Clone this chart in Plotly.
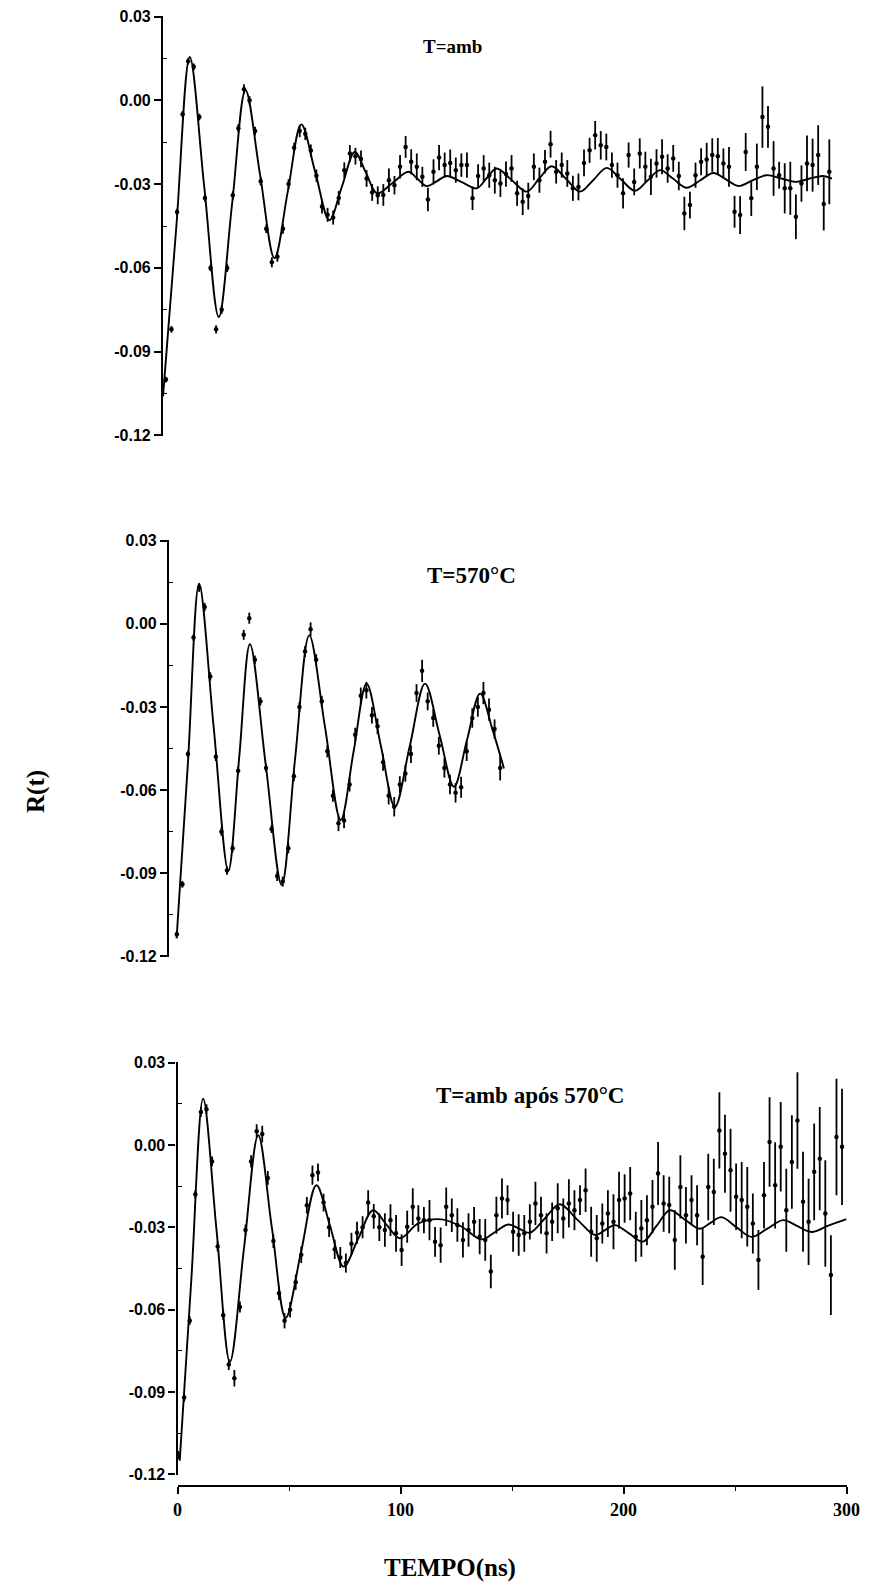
import plotly.graph_objects as go

# ---------------- Panel 1 : T=amb ----------------
t_amb = [1.3, 3.8, 6.3, 8.8, 11.3, 13.8, 16.3, 18.8, 21.3, 23.8, 26.3, 28.8, 31.3, 33.8, 36.3, 38.8,
         41.3, 43.8, 46.3, 48.8, 51.3, 53.8, 56.3, 58.8, 61.3, 63.8, 66.3, 68.8, 71.3, 73.8, 76.3, 78.8,
         81.3, 83.8, 86.3, 88.8, 91.3, 93.8, 96.3, 98.8, 101.3, 103.8, 106.3, 108.8, 111.3, 113.8, 116.3,
         118.8, 121.3, 123.8, 126.3, 128.8, 131.3, 133.8, 136.3, 138.8, 141.3, 143.8, 146.3, 148.8, 151.3,
         153.8, 156.3, 158.8, 161.3, 163.8, 166.3, 168.8, 171.3, 173.8, 176.3, 178.8, 181.3, 183.8, 186.3,
         188.8, 191.3, 193.8, 196.3, 198.8, 201.3, 203.8, 206.3, 208.8, 211.3, 213.8, 216.3, 218.8, 221.3,
         223.8, 226.3, 228.8, 231.3, 233.8, 236.3, 238.8, 241.3, 243.8, 246.3, 248.8, 251.3, 253.8, 256.3,
         258.8, 261.3, 263.8, 266.3, 268.8, 271.3, 273.8, 276.3, 278.8, 281.3, 283.8, 286.3, 288.8, 291.3,
         293.8, 296.3, 298.8]
r_amb = [-0.100, -0.082, -0.040, -0.005, 0.014, 0.012, -0.006, -0.035, -0.060, -0.082,
         -0.075, -0.060, -0.034, -0.010, 0.004, 0.000, -0.011, -0.029, -0.046, -0.058,
         -0.056, -0.046, -0.030, -0.017, -0.011, -0.012, -0.018, -0.027, -0.038, -0.041,
         -0.042, -0.035, -0.025, -0.019, -0.020, -0.021, -0.028, -0.033, -0.034,
         -0.0339, -0.0286, -0.0304, -0.0238, -0.0167, -0.0220, -0.0238, -0.0274, -0.0355, -0.0256,
         -0.0205, -0.0232, -0.0224, -0.0250, -0.0232, -0.0232, -0.0351, -0.0271, -0.0244, -0.0268,
         -0.0286, -0.0298, -0.0264, -0.0244, -0.0333, -0.0363, -0.0343, -0.0238, -0.0286, -0.0220,
         -0.0157, -0.0256, -0.0232, -0.0262, -0.0315, -0.0310, -0.0224, -0.0179, -0.0125, -0.0161,
         -0.0167, -0.0232, -0.0268, -0.0333, -0.0196, -0.0292, -0.0190, -0.0238, -0.0274, -0.0226,
         -0.0202, -0.0244, -0.0208, -0.0271, -0.0405, -0.0375, -0.0268, -0.0220, -0.0212, -0.0196,
         -0.0200, -0.0226, -0.0238, -0.0399, -0.0411, -0.0185, -0.0351, -0.0238, -0.0060, -0.0095,
         -0.0244, -0.0268, -0.0315, -0.0315, -0.0417, -0.0298, -0.0226, -0.0232, -0.0196, -0.0371,
         -0.0256]
e_amb = [0.0010, 0.0012, 0.0012, 0.0012, 0.0012, 0.0012, 0.0012, 0.0012, 0.0012, 0.0015,
         0.0015, 0.0015, 0.0015, 0.0015, 0.0018, 0.0015, 0.0015, 0.0015, 0.0015, 0.0018,
         0.0018, 0.0018, 0.0018, 0.0018, 0.0022, 0.0022, 0.0022, 0.0022, 0.0025, 0.0025,
         0.0025, 0.0025, 0.0028, 0.0030, 0.0030, 0.0030, 0.0030, 0.0030, 0.0032,
         0.0039, 0.0042, 0.0033, 0.0042, 0.0039, 0.0045, 0.0048, 0.0036, 0.0042, 0.0045,
         0.0045, 0.0045, 0.0048, 0.0045, 0.0042, 0.0045, 0.0042, 0.0042, 0.0048, 0.0045,
         0.0048, 0.0048, 0.0045, 0.0048, 0.0045, 0.0048, 0.0048, 0.0048, 0.0045, 0.0042,
         0.0048, 0.0042, 0.0045, 0.0048, 0.0045, 0.0048, 0.0048, 0.0045, 0.0051, 0.0051,
         0.0048, 0.0045, 0.0045, 0.0054, 0.0045, 0.0048, 0.0054, 0.0054, 0.0065, 0.0051,
         0.0063, 0.0051, 0.0048, 0.0051, 0.0060, 0.0048, 0.0045, 0.0048, 0.0060, 0.0060,
         0.0065, 0.0054, 0.0071, 0.0057, 0.0068, 0.0068, 0.0063, 0.0083, 0.0110, 0.0075,
         0.0098, 0.0048, 0.0090, 0.0095, 0.0080, 0.0065, 0.0100, 0.0095, 0.0107, 0.0095,
         0.0116]
fit_t_amb = [0, 6, 12, 18.5, 25, 31, 37, 43.5, 50, 56, 62, 68.3, 74.6, 80.3, 86, 91, 96, 103, 110, 114,
             118.2, 122.7, 127.2, 134, 140.7, 145, 149.6, 156.3, 163.1, 168.7, 174.3, 180.6, 187, 193,
             199, 205.3, 211.7, 217.3, 222.9, 228.8, 234.8, 240.8, 246.8, 252.4, 258, 264.3, 270.7,
             277.3, 284, 290, 296, 300]
fit_r_amb = [-0.106, -0.045, 0.0155, -0.031, -0.0776, -0.037, 0.0036, -0.0265, -0.0565, -0.0325,
             -0.0086, -0.0258, -0.0429, -0.0307, -0.0185, -0.0259, -0.0333, -0.0295, -0.0256, -0.028,
             -0.0307, -0.029, -0.0271, -0.0293, -0.0315, -0.028, -0.0244, -0.0285, -0.0327, -0.028,
             -0.0236, -0.028, -0.0327, -0.0285, -0.0242, -0.0283, -0.0324, -0.0287, -0.0250, -0.0281,
             -0.0313, -0.0287, -0.0260, -0.0283, -0.0307, -0.0287, -0.0268, -0.028, -0.0292, -0.028,
             -0.0271, -0.028]

# ---------------- Panel 2 : T=570 C ----------------
t_570 = [3.5, 6, 8.5, 11, 13.5, 16, 18.5, 21, 23.5, 26, 28.5, 31, 33.5, 36, 38.5, 41, 43.5, 46, 48.5,
         51, 53.5, 56, 58.5, 61, 63.5, 66, 68.5, 71, 73.5, 76, 78.5, 81, 83.5, 86, 88.5, 91, 93.5, 96,
         98.5, 101, 103.5, 106, 108.5, 111, 113.5, 116, 118.5, 121, 123.5, 126, 128.5, 131, 133.5,
         136, 138.5, 141, 143.5, 146, 148.5]
r_570 = [-0.112, -0.094, -0.047, -0.005, 0.013, 0.006, -0.019, -0.048, -0.075, -0.089,
         -0.081, -0.053, -0.004, 0.002, -0.013, -0.028, -0.052, -0.074, -0.091, -0.093,
         -0.081, -0.055, -0.030, -0.010, -0.002, -0.013, -0.028, -0.046, -0.062, -0.072,
         -0.071, -0.058, -0.040, -0.026, -0.024, -0.033, -0.037, -0.050, -0.062, -0.066,
         -0.058, -0.054, -0.047, -0.025, -0.017, -0.028, -0.034, -0.044, -0.052, -0.058,
         -0.061, -0.059, -0.046, -0.034, -0.030, -0.025, -0.031, -0.038, -0.052]
e_570 = [0.0012, 0.0012, 0.0012, 0.0012, 0.0015, 0.0015, 0.0015, 0.0015, 0.0015, 0.0015,
         0.0015, 0.0015, 0.0018, 0.0020, 0.0015, 0.0015, 0.0015, 0.0015, 0.0018, 0.0018,
         0.0018, 0.0018, 0.0018, 0.0020, 0.0025, 0.0020, 0.0020, 0.0022, 0.0022, 0.0028,
         0.0028, 0.0025, 0.0025, 0.0030, 0.0030, 0.0030, 0.0028, 0.0030, 0.0032, 0.0035,
         0.0030, 0.0030, 0.0032, 0.0032, 0.0040, 0.0032, 0.0032, 0.0032, 0.0035, 0.0035,
         0.0035, 0.0038, 0.0035, 0.0035, 0.0035, 0.0040, 0.0040, 0.0035, 0.0045]
fit_t_570 = [3.4, 8.5, 13.5, 20, 26.6, 31.5, 36.3, 43.4, 50.5, 56.5, 62.9, 70, 77, 82.8, 88.6, 95,
             101.3, 108, 114.8, 121.3, 127.8, 133.6, 139.5, 145, 150.2]
fit_r_570 = [-0.1135, -0.050, 0.0144, -0.037, -0.0891, -0.048, -0.0074, -0.051, -0.0942, -0.049,
             -0.0042, -0.0375, -0.0708, -0.046, -0.0216, -0.044, -0.066, -0.044, -0.0216, -0.040,
             -0.0588, -0.042, -0.0252, -0.038, -0.0522]

# ---------------- Panel 3 : T=amb apos 570 C ----------------
t_apos = [0.5, 3.0, 5.5, 8.0, 10.5, 13.0, 15.5, 18.0, 20.5, 23.0, 25.5, 28.0, 30.5, 33.0, 35.5, 38.0,
          40.5, 43.0, 45.5, 48.0, 50.5, 53.0, 55.5, 58.0, 60.5, 63.0, 65.5, 68.0, 70.5, 73.0, 75.5,
          78.0, 80.5, 83.0, 85.5, 88.0, 90.5, 93.0, 95.5, 98.0, 100.5, 103.0, 105.5, 108.0, 110.5,
          113.0, 115.5, 118.0, 120.5, 123.0, 125.5, 128.0, 130.5, 133.0, 135.5, 138.0, 140.5, 143.0,
          145.5, 148.0, 150.5, 153.0, 155.5, 158.0, 160.5, 163.0, 165.5, 168.0, 170.5, 173.0, 175.5,
          178.0, 180.5, 183.0, 185.5, 188.0, 190.5, 193.0, 195.5, 198.0, 200.5, 203.0, 205.5, 208.0,
          210.5, 213.0, 215.5, 218.0, 220.5, 223.0, 225.5, 228.0, 230.5, 233.0, 235.5, 238.0, 240.5,
          243.0, 245.5, 248.0, 250.5, 253.0, 255.5, 258.0, 260.5, 263.0, 265.5, 268.0, 270.5, 273.0,
          275.5, 278.0, 280.5, 283.0, 285.5, 288.0, 290.5, 293.0, 295.5, 298.0]
r_apos = [-0.113, -0.092, -0.064, -0.018, 0.012, 0.013, -0.006, -0.037, -0.062, -0.080,
          -0.085, -0.059, -0.031, -0.006, 0.005, 0.004, -0.012, -0.035, -0.054, -0.064,
          -0.060, -0.050, -0.040, -0.022, -0.011, -0.010, -0.021, -0.030, -0.038, -0.041,
          -0.043, -0.036, -0.032, -0.030, -0.021, -0.026, -0.030,
          -0.0310, -0.0274, -0.0322, -0.0383, -0.0298, -0.0225, -0.0268, -0.0274, -0.0274, -0.0353,
          -0.0365, -0.0225, -0.0256, -0.0292, -0.0346, -0.0310, -0.0280, -0.0334, -0.0346, -0.0461,
          -0.0256, -0.0195, -0.0201, -0.0316, -0.0328, -0.0322, -0.0280, -0.0213, -0.0256, -0.0322,
          -0.0280, -0.0231, -0.0268, -0.0213, -0.0238, -0.0201, -0.0165, -0.0316, -0.0340, -0.0286,
          -0.0250, -0.0280, -0.0201, -0.0195, -0.0177, -0.0334, -0.0304, -0.0274, -0.0225, -0.0104,
          -0.0213, -0.0219, -0.0346, -0.0153, -0.0256, -0.0201, -0.0256, -0.0407, -0.0153, -0.0171,
          0.0053, -0.0032, -0.0092, -0.0189, -0.0201, -0.0225, -0.0286, -0.0419, -0.0183, 0.0011,
          -0.0147, -0.0007, -0.0238, -0.0062, 0.0089, -0.0207, -0.0280, -0.0098, -0.0050, -0.0250,
          -0.0474, 0.0029, -0.0007]
e_apos = [0.0015, 0.0015, 0.0015, 0.0015, 0.0018, 0.0018, 0.0018, 0.0018, 0.0018, 0.0020,
          0.0030, 0.0020, 0.0020, 0.0022, 0.0025, 0.0030, 0.0025, 0.0025, 0.0025, 0.0028,
          0.0028, 0.0028, 0.0030, 0.0030, 0.0035, 0.0032, 0.0032, 0.0035, 0.0035, 0.0038,
          0.0035, 0.0040, 0.0040, 0.0040, 0.0045, 0.0045, 0.0050,
          0.0061, 0.0058, 0.0067, 0.0058, 0.0058, 0.0067, 0.0048, 0.0048, 0.0073, 0.0054,
          0.0064, 0.0070, 0.0061, 0.0061, 0.0064, 0.0061, 0.0054, 0.0064, 0.0076, 0.0061,
          0.0067, 0.0073, 0.0054, 0.0073, 0.0076, 0.0067, 0.0064, 0.0079, 0.0067, 0.0073,
          0.0070, 0.0091, 0.0073, 0.0088, 0.0073, 0.0054, 0.0079, 0.0091, 0.0085, 0.0073,
          0.0085, 0.0100, 0.0103, 0.0088, 0.0097, 0.0091, 0.0103, 0.0091, 0.0097, 0.0115,
          0.0103, 0.0103, 0.0109, 0.0115, 0.0103, 0.0091, 0.0109, 0.0103, 0.0121, 0.0121,
          0.0139, 0.0142, 0.0151, 0.0121, 0.0139, 0.0145, 0.0109, 0.0109, 0.0121, 0.0163,
          0.0157, 0.0163, 0.0151, 0.0170, 0.0176, 0.0182, 0.0157, 0.0176, 0.0188, 0.0194,
          0.0145, 0.0212, 0.0212]
fit_t_apos = [1, 6.2, 11.5, 17.5, 23.5, 29.8, 36.2, 42.3, 48.5, 55.4, 62.3, 68.4, 74.5, 81.1, 87.7,
              93.7, 99.7, 108, 118.4, 127.4, 136.4, 142.4, 148.3, 153.2, 158, 164.7, 171.4, 179.3,
              187.2, 191.7, 196.1, 202.5, 208.8, 214.8, 220.8, 227.5, 234.2, 239, 243.9, 250.7, 257.4,
              264.5, 271.6, 278, 284.3, 291.8, 300]
fit_r_apos = [-0.115, -0.049, 0.0168, -0.031, -0.079, -0.0378, 0.0035, -0.030, -0.063, -0.039,
              -0.0147, -0.0295, -0.0443, -0.034, -0.0238, -0.029, -0.034, -0.0286, -0.0271, -0.0298,
              -0.0344, -0.0317, -0.029, -0.0305, -0.032, -0.0268, -0.0216, -0.0272, -0.0328, -0.031,
              -0.0292, -0.0322, -0.0352, -0.0295, -0.0238, -0.0272, -0.0305, -0.0284, -0.0263, -0.030,
              -0.0335, -0.0305, -0.0274, -0.0296, -0.0317, -0.0294, -0.0270]

# ---------------- labels ----------------
panel_titles = ["T=amb", "T=570°C", "T=amb após 570°C"]
y_ticks = [-0.12, -0.09, -0.06, -0.03, 0.00, 0.03]
y_ticktext = ["-0.12", "-0.09", "-0.06", "-0.03", "0.00", "0.03"]
x_ticks = [0, 100, 200, 300]
y_title = "R(t)"
x_title = "TEMPO(ns)"

W, H = 869, 1582
fig = go.Figure()

panels = [
    (t_amb, r_amb, e_amb, fit_t_amb, fit_r_amb, "x", "y"),
    (t_570, r_570, e_570, fit_t_570, fit_r_570, "x2", "y2"),
    (t_apos, r_apos, e_apos, fit_t_apos, fit_r_apos, "x3", "y3"),
]
for t, r, e, ft, fr, xa, ya in panels:
    fig.add_trace(go.Scatter(x=ft, y=fr, mode="lines",
                             line=dict(color="black", width=1.9, shape="spline", smoothing=1.0),
                             xaxis=xa, yaxis=ya, hoverinfo="skip", showlegend=False))
    fig.add_trace(go.Scatter(x=t, y=r, mode="markers",
                             marker=dict(color="black", size=4.5),
                             error_y=dict(type="data", array=e, visible=True, color="black",
                                          thickness=1.8, width=0),
                             xaxis=xa, yaxis=ya, showlegend=False))

def px_x(p):
    return p / W

def px_y(p):
    return 1 - p / H

# pixel layout of each panel: (x of t=0, y of 0.03, y of -0.12)
geom = [(163, 16, 436), (169, 540, 957), (177.5, 1062, 1475)]
span = 669  # pixels per 300 ns

yaxis_common = dict(
    range=[-0.1202, 0.0302], tickmode="array", tickvals=y_ticks, ticktext=y_ticktext,
    showline=True, linecolor="black", linewidth=2.2, mirror=False, automargin=False,
    ticks="outside", ticklen=7, tickwidth=1.6, tickcolor="black",
    minor=dict(ticks="inside", ticklen=4, tickwidth=1.2, tickcolor="black",
               tickmode="array", tickvals=[-0.105, -0.075, -0.045, -0.015, 0.015]),
    showgrid=False, zeroline=False,
    tickfont=dict(family="Liberation Sans", size=16, color="black", weight="bold"),
)

layout = dict(width=W, height=H, margin=dict(l=0, r=0, t=0, b=0, pad=0), autosize=False,
              paper_bgcolor="white", plot_bgcolor="white", showlegend=False)

names = [("xaxis", "yaxis", "x", "y"), ("xaxis2", "yaxis2", "x2", "y2"), ("xaxis3", "yaxis3", "x3", "y3")]
for i, ((xn, yn, xr, yr), (x0, ytop, ybot)) in enumerate(zip(names, geom)):
    xd = [px_x(x0), px_x(x0 + span)]
    yd = [px_y(ybot), px_y(ytop)]
    ya = dict(yaxis_common)
    ya.update(domain=yd, anchor=xr)
    layout[yn] = ya
    if i < 2:
        layout[xn] = dict(domain=xd, range=[0, 300], visible=False, anchor=yr, automargin=False)
    else:
        layout[xn] = dict(
            domain=xd, range=[0, 300], anchor="free", position=px_y(1486), automargin=False,
            tickmode="array", tickvals=x_ticks,
            showline=True, linecolor="black", linewidth=2.2,
            ticks="outside", ticklen=7, tickwidth=1.6, tickcolor="black",
            minor=dict(ticks="outside", ticklen=4, tickwidth=1.2, tickcolor="black",
                       tickmode="array", tickvals=[50, 150, 250]),
            showgrid=False, zeroline=False,
            tickfont=dict(family="Liberation Serif", size=18, color="black", weight="bold"),
        )

fig.update_layout(**layout)

serif = dict(family="Liberation Serif", color="black", weight="bold")
title_spec = [(452, 46, 19), (471, 575, 23), (530, 1095, 23)]
for txt, (px, py, fs) in zip(panel_titles, title_spec):
    fig.add_annotation(text=txt, x=px_x(px), y=px_y(py), xref="paper", yref="paper",
                       xanchor="center", yanchor="middle",
                       showarrow=False, font=dict(size=fs, **serif))
fig.add_annotation(text=y_title, x=px_x(36), y=px_y(792), xref="paper", yref="paper",
                   xanchor="center", yanchor="middle",
                   showarrow=False, textangle=-90, font=dict(size=25, **serif))
fig.add_annotation(text=x_title, x=px_x(450), y=px_y(1568), xref="paper", yref="paper",
                   xanchor="center", yanchor="middle",
                   showarrow=False, font=dict(size=25, **serif))

fig.write_html("out.html")
